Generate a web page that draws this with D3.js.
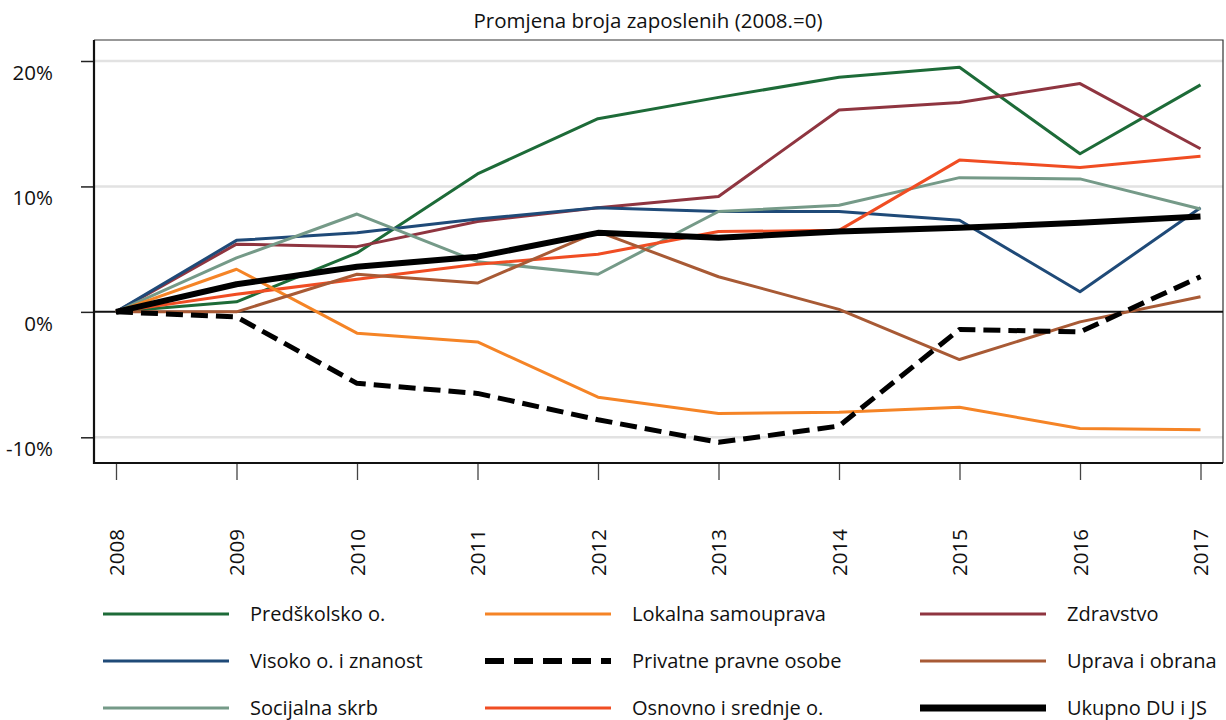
<!DOCTYPE html>
<html><head><meta charset="utf-8">
<script src="https://cdn.jsdelivr.net/npm/d3@7"></script>
<style>
body{margin:0;background:#fff;}
text{font-family:"Open Sans",sans-serif;fill:#111;}
</style></head>
<body><svg id="chart" width="1226" height="720"></svg>
<script>
const years = [2008,2009,2010,2011,2012,2013,2014,2015,2016,2017];
const yTicks = [-10,0,10,20];
const title = "Promjena broja zaposlenih (2008.=0)";

const predskolsko = [0,0.8,4.7,11.0,15.4,17.1,18.7,19.5,12.6,18.1];
const visoko      = [0,5.7,6.3,7.4,8.3,8.0,8.0,7.3,1.6,8.3];
const socijalna   = [0,4.3,7.8,4.0,3.0,8.0,8.5,10.7,10.6,8.2];
const lokalna     = [0,3.4,-1.7,-2.4,-6.8,-8.1,-8.0,-7.6,-9.3,-9.4];
const privatne    = [0,-0.4,-5.7,-6.5,-8.6,-10.4,-9.1,-1.4,-1.6,2.8];
const osnovno     = [0,1.4,2.6,3.8,4.6,6.4,6.5,12.1,11.5,12.4];
const zdravstvo   = [0,5.4,5.2,7.2,8.3,9.2,16.1,16.7,18.2,13.0];
const uprava      = [0,0.0,3.0,2.3,6.4,2.8,0.2,-3.8,-0.8,1.2];
const ukupno      = [0,2.2,3.6,4.4,6.3,5.9,6.4,6.7,7.1,7.6];

const seriesNames = ["Predškolsko o.","Visoko o. i znanost","Socijalna skrb","Lokalna samouprava","Privatne pravne osobe","Osnovno i srednje o.","Zdravstvo","Uprava i obrana","Ukupno DU i JS"];
const seriesValues = [predskolsko,visoko,socijalna,lokalna,privatne,osnovno,zdravstvo,uprava,ukupno];
const seriesColors = ["#1d6b38","#1f4a78","#759a88","#f58426","#000000","#f04d23","#8f3540","#a85a35","#000000"];
const seriesWidths = [3,3,3,3,5,3,3,3,6];
const seriesDash = [null,null,null,null,"17,8",null,null,null,null];
const drawOrder = [0,6,1,2,5,3,7,8,4];

const svg = d3.select("#chart");
const L=94, R=1223, T=40, B=463;
const x = d3.scaleLinear().domain([2008,2017]).range([116,1200.5]);
const y = d3.scaleLinear().domain([-10,20]).range([437.3,61]);

// gridlines
svg.append("g").selectAll("line").data(yTicks.filter(d=>d!==0)).join("line")
  .attr("x1",L).attr("x2",R).attr("y1",d=>y(d)).attr("y2",d=>y(d))
  .attr("stroke","#e2e2e2").attr("stroke-width",2.5);

// frame top/right
svg.append("path").attr("d",`M${L},${T}H${R}V${B}`).attr("fill","none").attr("stroke","#333").attr("stroke-width",1.2);

// y axis
const yAxis = d3.axisLeft(y).tickValues(yTicks).tickSize(13).tickFormat(d=>d+"%");
const gy = svg.append("g").attr("transform",`translate(${L},0)`).call(yAxis);
gy.select(".domain").remove();
gy.selectAll(".tick line").attr("stroke","#222").attr("stroke-width",1.5);
gy.selectAll(".tick text").attr("x",-41).attr("dy","0.9em").attr("font-size",20.5).attr("font-family","'Open Sans', sans-serif").attr("fill","#111");

// x axis
const xAxis = d3.axisBottom(x).tickValues(years).tickSize(17).tickFormat(d3.format("d"));
const gx = svg.append("g").attr("transform",`translate(0,${B})`).call(xAxis);
gx.select(".domain").remove();
gx.selectAll(".tick line").attr("stroke","#444").attr("stroke-width",1.3);
gx.selectAll(".tick text").attr("transform","rotate(-90)").attr("text-anchor","start")
  .attr("x",-113).attr("y",0).attr("dy","0.36em").attr("font-size",20.5).attr("font-family","'DejaVu Sans', sans-serif").attr("fill","#111");

// left & bottom axis lines
svg.append("path").attr("d",`M${L},${T}V${B}H${R}`).attr("fill","none").attr("stroke","#111").attr("stroke-width",2.2);

// zero line
svg.append("line").attr("x1",L).attr("x2",R).attr("y1",y(0)).attr("y2",y(0)).attr("stroke","#111").attr("stroke-width",2);

// lines
const line = d3.line().x((d,i)=>x(years[i])).y(d=>y(d));
svg.append("g").selectAll("path").data(drawOrder).join("path")
  .attr("d",i=>line(seriesValues[i]))
  .attr("fill","none").attr("stroke",i=>seriesColors[i]).attr("stroke-width",i=>seriesWidths[i])
  .attr("stroke-dasharray",i=>seriesDash[i]).attr("stroke-linejoin","round");

// title
svg.append("text").attr("x",648).attr("y",28).attr("text-anchor","middle").attr("font-size",20.5).text(title);

// legend
const colX = [103,485,920];
const rowY = [614,661,708];
const lg = svg.append("g");
seriesNames.forEach((name,i)=>{
  const c = Math.floor(i/3), r = i%3;
  const g = lg.append("g").attr("transform",`translate(${colX[c]},${rowY[r]})`);
  g.append("line").attr("x1",0).attr("x2",126).attr("y1",0).attr("y2",0)
    .attr("stroke",seriesColors[i]).attr("stroke-width",seriesWidths[i]===3?3:(i===4?6:7))
    .attr("stroke-dasharray",seriesDash[i]?"19,10":null);
  g.append("text").attr("x",147).attr("y",0).attr("dy","0.35em").attr("font-size",20).text(name);
});
</script></body></html>
